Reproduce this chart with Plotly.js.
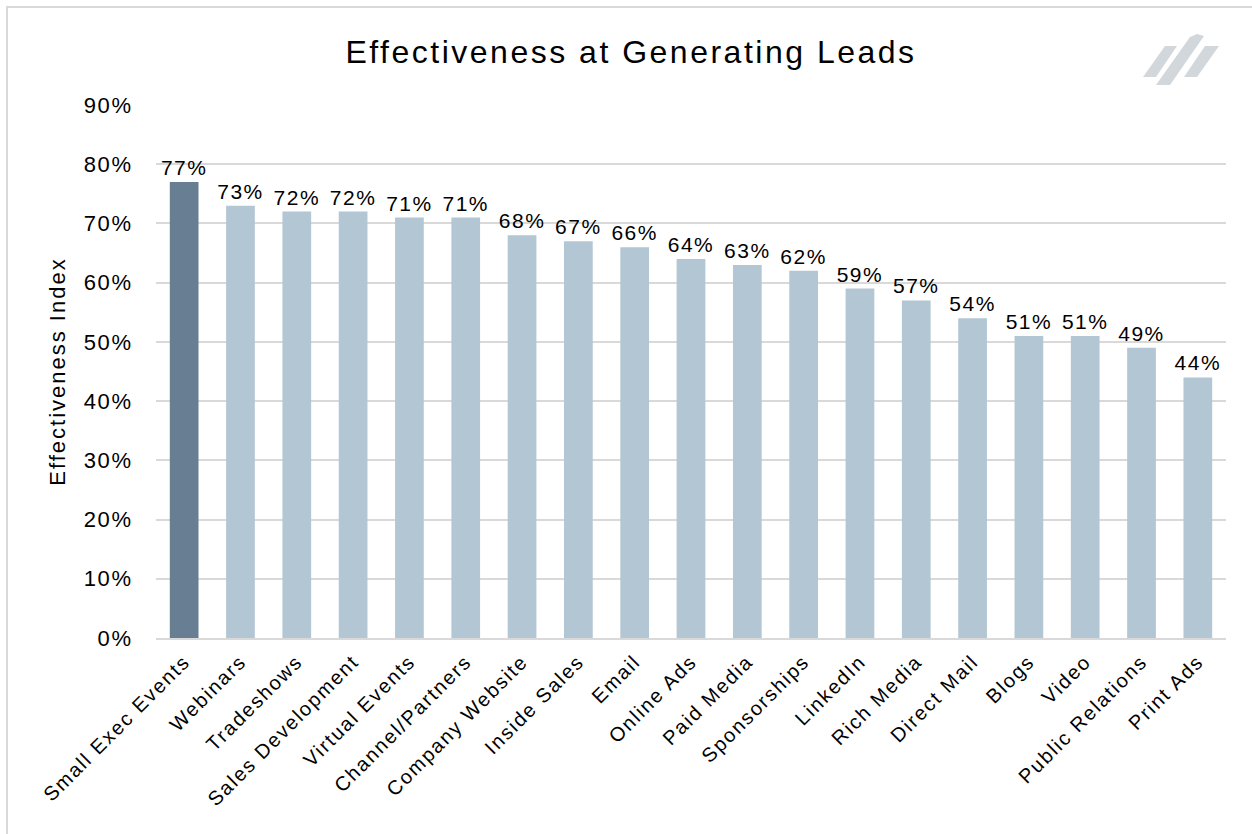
<!DOCTYPE html>
<html>
<head>
<meta charset="utf-8">
<script src="https://cdn.plot.ly/plotly-3.0.1.min.js"></script>
<style>
  html, body { margin: 0; padding: 0; background: #fff; overflow: hidden; }
  #wrap { position: relative; width: 1252px; height: 834px; }
  #chart { position: absolute; left: 0; top: 0; width: 1252px; height: 834px; }
  #frame { position: absolute; left: 6px; top: 6px; width: 1400px; height: 1000px; border: 2px solid #d9d9d9; pointer-events: none; }
  #logo { position: absolute; left: 0; top: 0; pointer-events: none; }
  #chart .gtitle { letter-spacing: 2.5px; }
  #chart .ytitle { letter-spacing: 2px; }
  #chart .xtick text { letter-spacing: 1.8px; }
  #chart .ytick text { letter-spacing: 1.6px; }
  #chart .bartext { letter-spacing: 1.5px; }
</style>
</head>
<body>
<div id="wrap">
  <div id="chart"></div>
  <div id="frame"></div>
  <svg id="logo" width="1252" height="834">
    <polygon points="1165,46 1177,46 1156,77 1143,77" fill="#d2d7db"/>
    <polygon points="1190,37 1197,34 1204,36 1170,85 1156,85" fill="#d2d7db"/>
    <polygon points="1205,46 1219,46 1197,77 1184,77" fill="#d2d7db"/>
  </svg>
</div>
<script>
const categories = ["Small Exec Events", "Webinars", "Tradeshows", "Sales Development", "Virtual Events",
  "Channel/Partners", "Company Website", "Inside Sales", "Email", "Online Ads", "Paid Media",
  "Sponsorships", "LinkedIn", "Rich Media", "Direct Mail", "Blogs", "Video", "Public Relations", "Print Ads"];
const values = [77, 73, 72, 72, 71, 71, 68, 67, 66, 64, 63, 62, 59, 57, 54, 51, 51, 49, 44];
const highlightColor = "#687e92";
const baseColor = "#b3c6d3";
const colors = values.map((v, i) => i === 0 ? highlightColor : baseColor);
const labels = values.map(v => v + "%");

const FONT = "Liberation Sans, Arial, Helvetica, sans-serif";

const trace = {
  type: "bar",
  x: categories,
  y: values,
  marker: { color: colors },
  text: labels,
  textposition: "outside",
  constraintext: "none",
  textfont: { family: FONT, size: 21, color: "#000" },
  cliponaxis: false,
  hoverinfo: "x+y"
};

const layout = {
  width: 1252,
  height: 834,
  paper_bgcolor: "#fff",
  plot_bgcolor: "#fff",
  margin: { l: 156, r: 26, t: 105, b: 196 },
  bargap: 0.49,
  showlegend: false,
  font: { family: FONT, color: "#000" },
  title: {
    text: "Effectiveness at Generating Leads",
    font: { family: FONT, size: 32, color: "#000" },
    xref: "container", x: 0.504, xanchor: "center",
    yref: "container", y: 1 - 52 / 834, yanchor: "middle"
  },
  xaxis: {
    type: "category",
    tickangle: -45,
    tickfont: { family: FONT, size: 20, color: "#000" },
    showgrid: false,
    showline: true,
    linecolor: "#d9d9d9",
    linewidth: 2,
    ticks: "outside",
    ticklen: 2,
    tickcolor: "rgba(0,0,0,0)",
    automargin: false
  },
  yaxis: {
    range: [0, 90],
    dtick: 10,
    tick0: 0,
    ticksuffix: "%",
    tickfont: { family: FONT, size: 22, color: "#000" },
    showgrid: true,
    gridcolor: "#d9d9d9",
    gridwidth: 2,
    zeroline: false,
    showline: false,
    ticks: "outside",
    ticklen: 18,
    tickcolor: "rgba(0,0,0,0)",
    automargin: false,
    title: {
      text: "Effectiveness Index",
      font: { family: FONT, size: 22, color: "#000" },
      standoff: 16
    }
  }
};

Plotly.newPlot("chart", [trace], layout, { displayModeBar: false, staticPlot: true });
</script>
</body>
</html>
